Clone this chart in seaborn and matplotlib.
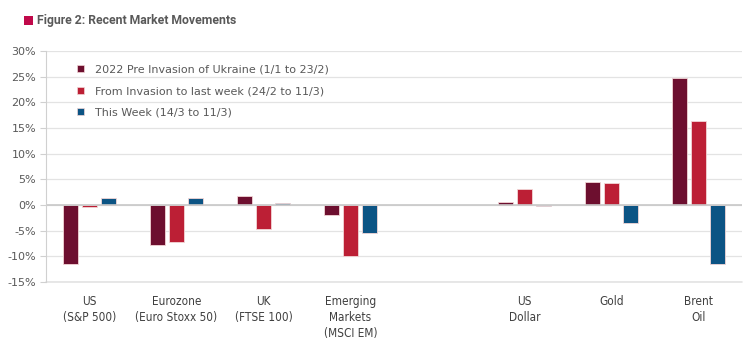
import numpy as np
import matplotlib
matplotlib.use("Agg")
import matplotlib.pyplot as plt
import matplotlib.patches as mpatches
import pandas as pd
import seaborn as sns

# categories on the x axis (blank slot between EM and US Dollar)
categories = ["US\n(S&P 500)", "Eurozone\n(Euro Stoxx 50)", "UK\n(FTSE 100)",
              "Emerging\nMarkets\n(MSCI EM)", " ", "US\nDollar", "Gold", "Brent\nOil"]
series = ["2022 Pre Invasion of Ukraine (1/1 to 23/2)",
          "From Invasion to last week (24/2 to 11/3)",
          "This Week (14/3 to 11/3)"]

# values in % (blank slot has no data)
pre_invasion = [-11.4, -7.7, 1.7, -2.0, np.nan, 0.5, 4.4, 24.7]
since_invasion = [-0.4, -7.3, -4.6, -10.0, np.nan, 3.1, 4.3, 16.4]
this_week = [1.4, 1.4, 0.3, -5.4, np.nan, -0.2, -3.6, -11.4]

colors = ["#6d0f2f", "#bc1f35", "#0c5484"]

rows = []
for vals, name in zip([pre_invasion, since_invasion, this_week], series):
    for cat, v in zip(categories, vals):
        if not np.isnan(v):
            rows.append({"category": cat, "series": name, "value": v})
df = pd.DataFrame(rows)

sns.set_style("white")
plt.rcParams["font.family"] = ["DejaVu Sans"]

fig = plt.figure(figsize=(7.5, 3.53), dpi=100)
ax = fig.add_axes([0.0613, 0.2011, 0.928, 0.6544])

sns.barplot(data=df, x="category", y="value", hue="series", order=categories,
            hue_order=series, palette=colors, saturation=1, width=0.65, gap=0.2,
            edgecolor="#f2d6d6", linewidth=0.6, errorbar=None, ax=ax)

ax.set_ylim(-15, 30)
ax.set_xlim(-0.5, len(categories) - 0.5)
ax.set_yticks(range(-15, 31, 5))
ax.set_yticklabels([f"{t}%" for t in range(-15, 31, 5)], color="#595959", fontsize=8)
ax.yaxis.grid(True, color="#e3e3e3", linewidth=0.9)
ax.set_axisbelow(True)
ax.axhline(0, color="#c8c8c8", linewidth=1.2, zorder=1.5)
ax.axhline(-15, color="#e3e3e3", linewidth=1.2, clip_on=False, zorder=0.5)

for s in ["top", "right", "bottom"]:
    ax.spines[s].set_visible(False)
ax.spines["left"].set_color("#d0d0d0")
ax.tick_params(axis="y", which="both", left=True, length=4, color="#d0d0d0", pad=3)
ax.tick_params(axis="x", length=0, pad=9)
ax.set_xticks(range(len(categories)))
ax.set_xticklabels(categories, fontsize=8.5, color="#404040", family="DejaVu Sans",
                   fontstretch="condensed", linespacing=1.3, va="top")
ax.set_xlabel("")
ax.set_ylabel("")

handles = [mpatches.Patch(facecolor=c, edgecolor="#f2d6d6", linewidth=0.5) for c in colors]
ax.legend(handles, series, loc="upper left", bbox_to_anchor=(0.03, 0.985),
          frameon=False, fontsize=8, labelcolor="#595959", handlelength=0.6,
          handleheight=0.6, handletextpad=1.0, labelspacing=1.05)

fig.patches.append(mpatches.Rectangle((24 / 750, 1 - 25 / 353), 8.5 / 750, 8.5 / 353,
                                      transform=fig.transFigure, facecolor="#c0094a",
                                      edgecolor="none"))
fig.text(37 / 750, 1 - 20.5 / 353, "Figure 2: Recent Market Movements", fontsize=8.8,
         fontweight="bold", color="#595959", va="center", ha="left", family=["Roboto"])

fig.savefig("out.png", dpi=100)
